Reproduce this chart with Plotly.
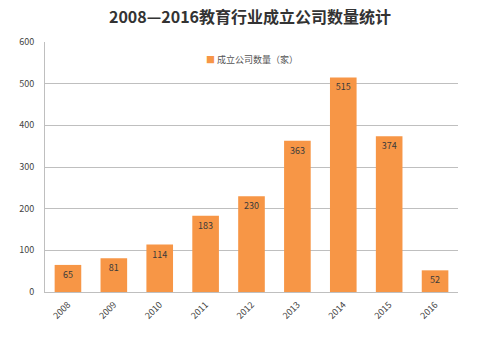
import plotly.graph_objects as go

years = ["2008", "2009", "2010", "2011", "2012", "2013", "2014", "2015", "2016"]
counts = [65, 81, 114, 183, 230, 363, 515, 374, 52]
series_name = "成立公司数量（家）"
title = "2008—2016教育行业成立公司数量统计"
bar_color = "#F79646"

fig = go.Figure()
fig.add_trace(go.Bar(
    x=years, y=counts, name=series_name,
    marker=dict(color=bar_color, line=dict(width=0)),
    text=[str(v) for v in counts], textposition="inside",
    insidetextanchor="end",
    textfont=dict(size=9, color="#3a3a3a", family="Noto Sans CJK SC"),
    showlegend=False,
))
fig.add_annotation(
    xref="paper", yref="paper", x=0.5, y=0.93, xanchor="center", yanchor="middle",
    text="<span style='color:%s'>■</span> %s" % (bar_color, series_name),
    showarrow=False, font=dict(size=9, color="#555555", family="Noto Sans CJK SC"),
)
fig.update_layout(
    width=500, height=357,
    margin=dict(l=45, r=42, t=42, b=65, autoexpand=False),
    paper_bgcolor="white", plot_bgcolor="white",
    title=dict(text="<b>" + title + "</b>", x=0.5, xanchor="center", y=0.95, yanchor="middle",
               font=dict(size=16, color="#333333", family="Noto Sans CJK SC")),
    bargap=0.42,
    font=dict(family="Noto Sans CJK SC"),
)
fig.update_yaxes(range=[0, 600], dtick=100, showgrid=True, gridcolor="#BFBFBF", gridwidth=1,
                 showline=True, linecolor="#BFBFBF", zeroline=False, automargin=False,
                 tickfont=dict(size=9, color="#444444"), ticks="", ticklabelstandoff=8)
fig.update_xaxes(tickangle=-45, showline=True, linecolor="#BFBFBF", automargin=False,
                 tickfont=dict(size=9, color="#444444"), ticks="", ticklabelstandoff=3)
fig.write_html("out.html", config={"displayModeBar": False},
               post_script="document.body.style.margin='0';")
